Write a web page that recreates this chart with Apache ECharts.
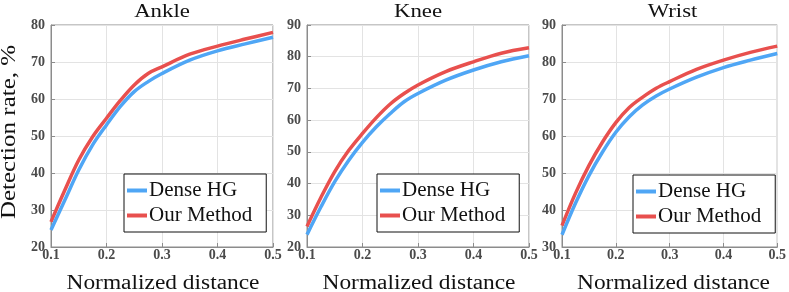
<!DOCTYPE html>
<html>
<head>
<meta charset="utf-8">
<script src="https://cdn.jsdelivr.net/npm/echarts@6/dist/echarts.min.js"></script>
<style>html,body{margin:0;padding:0;background:#fff;}#c{width:789px;height:292px;}</style>
</head>
<body>
<div id="c"></div>
<script>
// ---- data ----
const xs = [0.1, 0.125, 0.15, 0.175, 0.2, 0.225, 0.25, 0.275, 0.3, 0.35, 0.4, 0.45, 0.5];
const panelTitles = ['Ankle', 'Knee', 'Wrist'];
const seriesNames = ['Dense HG', 'Our Method'];
const ankleDense = [24.6, 32.7, 40.8, 47.6, 53.0, 58.0, 62.0, 64.7, 66.9, 70.5, 73.0, 74.9, 76.7];
const ankleOurs  = [26.8, 35.4, 43.5, 49.8, 54.8, 59.6, 63.8, 66.9, 68.7, 72.1, 74.3, 76.2, 78.0];
const kneeDense  = [23.9, 32.6, 40.6, 47.3, 53.0, 57.9, 62.1, 65.8, 68.4, 72.6, 75.8, 78.4, 80.3];
const kneeOurs   = [26.5, 35.6, 43.8, 50.4, 55.8, 60.8, 65.1, 68.4, 71.1, 75.3, 78.4, 81.1, 82.8];
const wristDense = [33.3, 41.8, 49.3, 55.6, 61.0, 65.2, 68.4, 70.8, 72.7, 75.9, 78.5, 80.5, 82.3];
const wristOurs  = [35.8, 44.5, 52.0, 58.3, 63.6, 67.7, 70.5, 72.9, 74.7, 78.0, 80.5, 82.6, 84.3];
const yMins = [20, 20, 30];
const yMaxs = [80, 90, 90];
const xTitle = 'Normalized distance';
const yTitle = 'Detection rate, %';

// ---- layout ----
const grids = [
  {left: 51, top: 25, width: 222, height: 222},
  {left: 307, top: 25, width: 222, height: 222},
  {left: 562, top: 25, width: 221, height: 222}
];
const legendPos = [{left: 124, top: 174}, {left: 377, top: 174}, {left: 633, top: 175}];
const BLUE = '#4fa6f5', RED = '#e8504e';
const SERIF = 'Liberation Serif';

const panels = [[ankleDense, ankleOurs], [kneeDense, kneeOurs], [wristDense, wristOurs]];
const pair = (arr) => xs.map((x, i) => [x, arr[i]]);

const option = {
  animation: false,
  backgroundColor: '#fff',
  grid: grids.map(g => Object.assign({show: true, borderColor: '#8c8c8c', borderWidth: 1, backgroundColor: '#fff'}, g)),
  xAxis: grids.map((g, i) => ({
    type: 'value', gridIndex: i, min: 0.1, max: 0.5, interval: 0.1,
    axisLine: {show: true, lineStyle: {color: '#8c8c8c', width: 1}},
    axisTick: {show: true, inside: true, length: 4, lineStyle: {color: '#8c8c8c'}},
    splitLine: {show: true, lineStyle: {color: '#e3e3e3', width: 1}},
    axisLabel: {margin: 1, color: '#4a4a4a', fontFamily: SERIF, fontSize: 14, fontWeight: 'bold',
      formatter: v => v.toFixed(1)}
  })),
  yAxis: grids.map((g, i) => ({
    type: 'value', gridIndex: i, min: yMins[i], max: yMaxs[i], interval: 10,
    axisLine: {show: true, lineStyle: {color: '#8c8c8c', width: 1}},
    axisTick: {show: true, inside: true, length: 4, lineStyle: {color: '#8c8c8c'}},
    splitLine: {show: true, lineStyle: {color: '#e3e3e3', width: 1}},
    axisLabel: {margin: 6, color: '#4a4a4a', fontFamily: SERIF, fontSize: 14, fontWeight: 'bold'}
  })),
  legend: legendPos.map(p => ({
    left: p.left, top: p.top, orient: 'vertical',
    data: seriesNames, icon: 'rect', itemWidth: 20, itemHeight: 4, itemGap: 4,
    backgroundColor: '#fff', borderColor: '#111', borderWidth: 1,
    padding: [6, 14, 6, 3],
    textStyle: {fontFamily: SERIF, fontSize: 21, color: '#111', padding: [0, 0, 0, -3]}
  })),
  series: [],
  graphic: []
};

panels.forEach((pd, i) => {
  [0, 1].forEach(k => {
    option.series.push({
      type: 'line', name: seriesNames[k], xAxisIndex: i, yAxisIndex: i,
      data: pair(pd[k]), smooth: 0.35, showSymbol: false, symbol: 'none',
      lineStyle: {width: 3.5, color: k === 0 ? BLUE : RED},
      itemStyle: {color: k === 0 ? BLUE : RED},
      z: k === 0 ? 3 : 2
    });
  });
  const cx = grids[i].left + grids[i].width / 2;
  option.graphic.push({
    type: 'text', x: cx, y: 12, scaleX: 1.2,
    style: {text: panelTitles[i], fontFamily: SERIF, fontSize: 19, fill: '#111', align: 'center', verticalAlign: 'middle'}
  });
  option.graphic.push({
    type: 'text', x: cx + 1, y: 284, scaleX: 1.17,
    style: {text: xTitle, fontFamily: SERIF, fontSize: 20, fill: '#111', align: 'center', verticalAlign: 'middle'}
  });
});
option.graphic.push({
  type: 'text', x: 10, y: 132, rotation: Math.PI / 2, scaleX: 1.25,
  style: {text: yTitle, fontFamily: SERIF, fontSize: 20, fill: '#111', align: 'center', verticalAlign: 'middle'}
});

const chart = echarts.init(document.getElementById('c'), null, {renderer: 'canvas'});
chart.setOption(option);
</script>
</body>
</html>
